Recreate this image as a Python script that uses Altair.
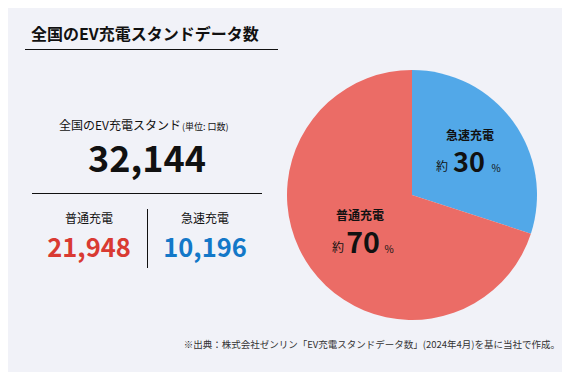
import altair as alt
import pandas as pd

FONT = "Noto Sans CJK JP"
OX, OY = 8, 8  # page margin offset

title = "全国のEV充電スタンドデータ数"
total_label = "全国のEV充電スタンド"
unit_label = "(単位: 口数)"
total_value = "32,144"
categories = ["急速充電", "普通充電"]
counts = ["10,196", "21,948"]
shares = [30, 70]
pie_colors = ["#52a8e8", "#eb6c66"]
num_colors = ["#1378c8", "#d93a32"]
footnote = "※出典：株式会社ゼンリン「EV充電スタンドデータ数」(2024年4月)を基に当社で作成。"


def X(v):
    return alt.value(v - OX)


def Y(v):
    return alt.value(v - OY)


def txt(s, x, y, size, weight="normal", align="center", baseline="middle", color="#111111"):
    return alt.Chart(pd.DataFrame({"t": [s]})).mark_text(
        font=FONT, fontSize=size, fontWeight=weight, align=align,
        baseline=baseline, color=color
    ).encode(x=X(x), y=Y(y), text="t:N")


def rule(x1, x2, y1, y2, color="#111111", w=1):
    return alt.Chart(pd.DataFrame({"a": [0]})).mark_rule(color=color, strokeWidth=w).encode(
        x=X(x1), x2=X(x2), y=Y(y1), y2=Y(y2)
    )


pie_df = pd.DataFrame({"cat": categories, "share": shares, "order": [0, 1]})
pie = alt.Chart(pie_df).mark_arc(radius=125).encode(
    theta=alt.Theta("share:Q", stack=True),
    color=alt.Color("cat:N", scale=alt.Scale(domain=categories, range=pie_colors), legend=None),
    order=alt.Order("order:Q"),
    x=X(412), y=Y(195),
)

layers = [
    txt(title, 31, 35, 16, weight="bold", align="left"),
    rule(25, 278, 49.5, 49.5),
    txt(total_label, 181, 126, 12, align="right"),
    txt(unit_label, 182, 127, 9, align="left"),
    txt(total_value, 147, 172, 36, weight="bold", baseline="alphabetic"),
    rule(32, 262, 193.5, 193.5),
    rule(147.5, 147.5, 209, 268),
    txt(categories[1], 89, 219, 12),
    txt(counts[1], 89, 257, 25.5, weight="bold", baseline="alphabetic", color=num_colors[1]),
    txt(categories[0], 205, 219, 12),
    txt(counts[0], 205, 257, 25.5, weight="bold", baseline="alphabetic", color=num_colors[0]),
    pie,
    txt(categories[0], 470, 136, 12, weight="bold"),
    txt("約", 442, 167, 12),
    txt(str(shares[0]), 469, 172, 27, weight="bold", baseline="alphabetic"),
    txt("%", 496, 172, 10, baseline="alphabetic"),
    txt(categories[1], 360, 216, 12, weight="bold"),
    txt("約", 338, 248, 12),
    txt(str(shares[1]), 363, 253, 28.5, weight="bold", baseline="alphabetic"),
    txt("%", 389, 253, 10, baseline="alphabetic"),
    txt(footnote, 560, 345, 9.5, align="right", color="#333333"),
]

chart = alt.layer(*layers).properties(
    width=554, height=364, padding=0, autosize=alt.AutoSizeParams(type="none"),
    background="#f1f2f8",
).configure_view(stroke=None)

chart.save("out.html", embed_options={"renderer": "svg", "actions": False})
